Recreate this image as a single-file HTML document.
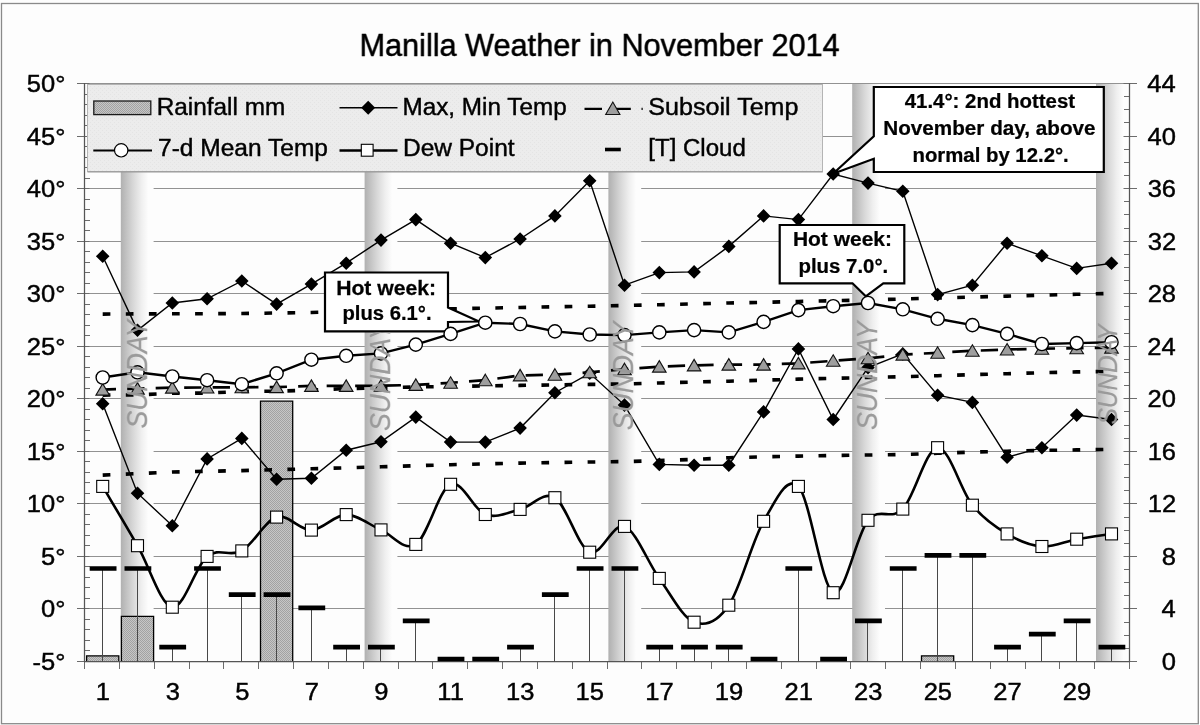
<!DOCTYPE html>
<html><head><meta charset="utf-8"><title>Manilla Weather in November 2014</title>
<style>html,body{margin:0;padding:0;background:#fdfdfc;}svg{display:block;font-family:"Liberation Sans",sans-serif;filter:grayscale(1);}</style></head><body>
<svg width="1200" height="725" viewBox="0 0 1200 725">
<defs>
<linearGradient id="band" x1="0" y1="0" x2="1" y2="0"><stop offset="0" stop-color="#b0b0b0"/><stop offset="0.36" stop-color="#d6d6d6"/><stop offset="0.63" stop-color="#efefef"/><stop offset="0.84" stop-color="#fcfdfb"/><stop offset="1" stop-color="#fcfdfb"/></linearGradient>
<pattern id="rain" width="2" height="2" patternUnits="userSpaceOnUse"><rect width="2" height="2" fill="#c6c6c6"/><rect width="1" height="1" fill="#a2a2a2"/><rect x="1" y="1" width="1" height="1" fill="#a2a2a2"/></pattern>
<pattern id="leg" width="4" height="4" patternUnits="userSpaceOnUse"><rect width="4" height="4" fill="#ececec"/><rect width="1" height="1" fill="#e4e4e4"/><rect x="2" y="2" width="1" height="1" fill="#e4e4e4"/></pattern>
</defs>
<rect width="1200" height="725" fill="#fdfdfc"/>
<rect x="1.5" y="3.5" width="1196.8" height="720.2" fill="#fcfdfb" stroke="#8a8a8a" stroke-width="1.3"/>
<path d="M84.5,83.5H1129.5M84.5,136.5H1129.5M84.5,188.5H1129.5M84.5,241.5H1129.5M84.5,293.5H1129.5M84.5,346.5H1129.5M84.5,398.5H1129.5M84.5,451.5H1129.5M84.5,503.5H1129.5M84.5,556.5H1129.5M84.5,608.5H1129.5M84.5,661.5H1129.5" stroke="#929292" stroke-width="1" fill="none"/>
<rect x="120.8" y="83.0" width="32.8" height="578.5" fill="url(#band)"/>
<rect x="364.6" y="83.0" width="32.8" height="578.5" fill="url(#band)"/>
<rect x="608.4" y="83.0" width="32.8" height="578.5" fill="url(#band)"/>
<rect x="852.2" y="83.0" width="32.8" height="578.5" fill="url(#band)"/>
<rect x="1096.0" y="83.0" width="32.8" height="578.5" fill="url(#band)"/>
<path d="M84.5,83.5H1129.5" stroke="#929292" stroke-width="1" fill="none"/>
<path d="M77.0,83.5H89.5M84.5,94.5H90.0M84.5,104.5H90.0M84.5,115.5H90.0M84.5,125.5H90.0M77.0,136.5H89.5M84.5,146.5H90.0M84.5,157.5H90.0M84.5,167.5H90.0M84.5,178.5H90.0M77.0,188.5H89.5M84.5,199.5H90.0M84.5,209.5H90.0M84.5,220.5H90.0M84.5,230.5H90.0M77.0,241.5H89.5M84.5,251.5H90.0M84.5,262.5H90.0M84.5,272.5H90.0M84.5,283.5H90.0M77.0,293.5H89.5M84.5,304.5H90.0M84.5,314.5H90.0M84.5,325.5H90.0M84.5,335.5H90.0M77.0,346.5H89.5M84.5,356.5H90.0M84.5,367.5H90.0M84.5,377.5H90.0M84.5,388.5H90.0M77.0,398.5H89.5M84.5,409.5H90.0M84.5,419.5H90.0M84.5,430.5H90.0M84.5,440.5H90.0M77.0,451.5H89.5M84.5,461.5H90.0M84.5,472.5H90.0M84.5,482.5H90.0M84.5,493.5H90.0M77.0,503.5H89.5M84.5,514.5H90.0M84.5,524.5H90.0M84.5,535.5H90.0M84.5,545.5H90.0M77.0,556.5H89.5M84.5,566.5H90.0M84.5,577.5H90.0M84.5,587.5H90.0M84.5,598.5H90.0M77.0,608.5H89.5M84.5,619.5H90.0M84.5,629.5H90.0M84.5,640.5H90.0M84.5,650.5H90.0M77.0,661.5H89.5M1123.5,83.5H1137.0M1124.0,96.5H1129.5M1124.0,109.5H1129.5M1124.0,122.5H1129.5M1123.5,136.5H1137.0M1124.0,149.5H1129.5M1124.0,162.5H1129.5M1124.0,175.5H1129.5M1123.5,188.5H1137.0M1124.0,201.5H1129.5M1124.0,214.5H1129.5M1124.0,228.5H1129.5M1123.5,241.5H1137.0M1124.0,254.5H1129.5M1124.0,267.5H1129.5M1124.0,280.5H1129.5M1123.5,293.5H1137.0M1124.0,306.5H1129.5M1124.0,319.5H1129.5M1124.0,333.5H1129.5M1123.5,346.5H1137.0M1124.0,359.5H1129.5M1124.0,372.5H1129.5M1124.0,385.5H1129.5M1123.5,398.5H1137.0M1124.0,411.5H1129.5M1124.0,425.5H1129.5M1124.0,438.5H1129.5M1123.5,451.5H1137.0M1124.0,464.5H1129.5M1124.0,477.5H1129.5M1124.0,490.5H1129.5M1123.5,503.5H1137.0M1124.0,517.5H1129.5M1124.0,530.5H1129.5M1124.0,543.5H1129.5M1123.5,556.5H1137.0M1124.0,569.5H1129.5M1124.0,582.5H1129.5M1124.0,595.5H1129.5M1123.5,608.5H1137.0M1124.0,622.5H1129.5M1124.0,635.5H1129.5M1124.0,648.5H1129.5M1123.5,661.5H1137.0M84.5,661.5V669.0M119.5,661.5V669.0M154.5,661.5V669.0M189.5,661.5V669.0M223.5,661.5V669.0M258.5,661.5V669.0M293.5,661.5V669.0M328.5,661.5V669.0M363.5,661.5V669.0M398.5,661.5V669.0M432.5,661.5V669.0M467.5,661.5V669.0M502.5,661.5V669.0M537.5,661.5V669.0M572.5,661.5V669.0M607.5,661.5V669.0M641.5,661.5V669.0M676.5,661.5V669.0M711.5,661.5V669.0M746.5,661.5V669.0M781.5,661.5V669.0M816.5,661.5V669.0M850.5,661.5V669.0M885.5,661.5V669.0M920.5,661.5V669.0M955.5,661.5V669.0M990.5,661.5V669.0M1025.5,661.5V669.0M1059.5,661.5V669.0M1094.5,661.5V669.0M1129.5,661.5V669.0" stroke="#6c6c6c" stroke-width="1" fill="none"/>
<path d="M84.5,83.0V662.0M1129.5,83.0V662.0M84.0,661.5H1130.0" stroke="#555" stroke-width="1.25" fill="none"/>
<rect x="86.6" y="655.9" width="32.2" height="5.1" fill="url(#rain)"/><path d="M86.6,661.0V655.9H118.8V661.0" fill="none" stroke="#000" stroke-width="1.3"/>
<rect x="121.4" y="616.3" width="32.2" height="44.7" fill="url(#rain)"/><path d="M121.4,661.0V616.3H153.6V661.0" fill="none" stroke="#000" stroke-width="1.3"/>
<rect x="260.5" y="401.2" width="32.2" height="259.8" fill="url(#rain)"/><path d="M260.5,661.0V401.2H292.7V661.0" fill="none" stroke="#000" stroke-width="1.3"/>
<rect x="921.5" y="655.9" width="32.2" height="5.1" fill="url(#rain)"/><path d="M921.5,661.0V655.9H953.7V661.0" fill="none" stroke="#000" stroke-width="1.3"/>
<path d="M102.5,569.1V661.5M137.5,569.1V661.5M172.5,647.8V661.5M207.5,569.1V661.5M241.5,595.3V661.5M276.5,595.3V661.5M311.5,608.4V661.5M346.5,647.8V661.5M380.5,647.8V661.5M415.5,621.5V661.5M520.5,647.8V661.5M554.5,595.3V661.5M589.5,569.1V661.5M624.5,569.1V661.5M659.5,647.8V661.5M694.5,647.8V661.5M728.5,647.8V661.5M798.5,569.1V661.5M867.5,621.5V661.5M902.5,569.1V661.5M937.5,556.0V661.5M972.5,556.0V661.5M1007.5,647.8V661.5M1041.5,634.7V661.5M1076.5,621.5V661.5M1111.5,647.8V661.5" stroke="#484848" stroke-width="1" fill="none"/>
<path d="M89.7,568.5H116.5M124.5,568.5H151.3M159.3,647.2H186.1M194.1,568.5H220.9M228.8,594.7H255.6M263.6,594.7H290.4M298.4,607.8H325.2M333.2,647.2H360.0M368.0,647.2H394.8M402.8,620.9H429.6M437.6,659.0H464.4M472.3,659.0H499.1M507.1,647.2H533.9M541.9,594.7H568.7M576.7,568.5H603.5M611.5,568.5H638.3M646.3,647.2H673.1M681.1,647.2H707.9M715.8,647.2H742.6M750.6,659.0H777.4M785.4,568.5H812.2M820.2,659.0H847.0M855.0,620.9H881.8M889.8,568.5H916.6M924.6,555.4H951.4M959.4,555.4H986.2M994.1,647.2H1020.9M1028.9,634.1H1055.7M1063.7,620.9H1090.5M1098.5,647.2H1125.3" stroke="#000" stroke-width="4.7" fill="none"/>
<polyline points="102.7,314.1 137.5,313.9 172.3,313.8 207.1,313.7 241.8,313.5 276.6,313.0 311.4,312.5 346.2,311.6 381.0,310.7 415.8,309.8 450.6,308.9 485.3,308.1 520.1,307.5 554.9,306.8 589.7,306.2 624.5,305.5 659.3,304.7 694.1,303.9 728.8,303.0 763.6,302.3 798.4,301.5 833.2,300.7 868.0,299.9 902.8,299.0 937.6,298.0 972.4,297.1 1007.1,296.1 1041.9,295.2 1076.7,294.3 1111.5,293.4" fill="none" stroke="#000" stroke-width="3.6" stroke-dasharray="7.7 15.4"/>
<polyline points="102.7,395.1 137.5,394.9 172.3,393.3 207.1,393.1 241.8,391.4 276.6,391.2 311.4,390.1 346.2,388.6 381.0,387.7 415.8,387.0 450.6,386.4 485.3,385.9 520.1,385.4 554.9,384.9 589.7,384.4 624.5,384.0 659.3,383.0 694.1,382.0 728.8,381.2 763.6,380.2 798.4,379.1 833.2,378.3 868.0,377.5 902.8,376.7 937.6,375.7 972.4,374.6 1007.1,373.7 1041.9,372.7 1076.7,371.9 1111.5,371.4" fill="none" stroke="#000" stroke-width="3.6" stroke-dasharray="7.7 15.4"/>
<polyline points="102.7,475.1 137.5,473.6 172.3,472.0 207.1,471.3 241.8,470.6 276.6,469.7 311.4,468.8 346.2,467.8 381.0,466.8 415.8,465.7 450.6,464.7 485.3,463.9 520.1,463.1 554.9,462.5 589.7,462.0 624.5,461.6 659.3,460.6 694.1,459.4 728.8,457.8 763.6,456.8 798.4,456.1 833.2,455.5 868.0,455.0 902.8,454.5 937.6,453.3 972.4,452.1 1007.1,451.2 1041.9,450.4 1076.7,449.9 1111.5,449.4" fill="none" stroke="#000" stroke-width="3.6" stroke-dasharray="7.7 15.4"/>
<polyline points="102.7,256.3 137.5,330.3 172.3,303.0 207.1,298.8 241.8,281.0 276.6,304.1 311.4,284.1 346.2,263.2 381.0,240.1 415.8,219.6 450.6,243.2 485.3,257.6 520.1,239.0 554.9,215.9 589.7,180.8 624.5,285.2 659.3,272.6 694.1,271.9 728.8,246.4 763.6,215.9 798.4,219.6 833.2,174.0 868.0,183.1 902.8,191.3 937.6,294.6 972.4,285.2 1007.1,243.2 1041.9,255.8 1076.7,268.4 1111.5,263.2" fill="none" stroke="#000" stroke-width="1.4"/>
<path d="M102.7,249.5l6.8,6.8l-6.8,6.8l-6.8,-6.8zM137.5,323.5l6.8,6.8l-6.8,6.8l-6.8,-6.8zM172.3,296.2l6.8,6.8l-6.8,6.8l-6.8,-6.8zM207.1,292.0l6.8,6.8l-6.8,6.8l-6.8,-6.8zM241.8,274.2l6.8,6.8l-6.8,6.8l-6.8,-6.8zM276.6,297.3l6.8,6.8l-6.8,6.8l-6.8,-6.8zM311.4,277.3l6.8,6.8l-6.8,6.8l-6.8,-6.8zM346.2,256.4l6.8,6.8l-6.8,6.8l-6.8,-6.8zM381.0,233.3l6.8,6.8l-6.8,6.8l-6.8,-6.8zM415.8,212.8l6.8,6.8l-6.8,6.8l-6.8,-6.8zM450.6,236.4l6.8,6.8l-6.8,6.8l-6.8,-6.8zM485.3,250.8l6.8,6.8l-6.8,6.8l-6.8,-6.8zM520.1,232.2l6.8,6.8l-6.8,6.8l-6.8,-6.8zM554.9,209.1l6.8,6.8l-6.8,6.8l-6.8,-6.8zM589.7,174.0l6.8,6.8l-6.8,6.8l-6.8,-6.8zM624.5,278.4l6.8,6.8l-6.8,6.8l-6.8,-6.8zM659.3,265.8l6.8,6.8l-6.8,6.8l-6.8,-6.8zM694.1,265.1l6.8,6.8l-6.8,6.8l-6.8,-6.8zM728.8,239.6l6.8,6.8l-6.8,6.8l-6.8,-6.8zM763.6,209.1l6.8,6.8l-6.8,6.8l-6.8,-6.8zM798.4,212.8l6.8,6.8l-6.8,6.8l-6.8,-6.8zM833.2,167.2l6.8,6.8l-6.8,6.8l-6.8,-6.8zM868.0,176.3l6.8,6.8l-6.8,6.8l-6.8,-6.8zM902.8,184.5l6.8,6.8l-6.8,6.8l-6.8,-6.8zM937.6,287.8l6.8,6.8l-6.8,6.8l-6.8,-6.8zM972.4,278.4l6.8,6.8l-6.8,6.8l-6.8,-6.8zM1007.1,236.4l6.8,6.8l-6.8,6.8l-6.8,-6.8zM1041.9,249.0l6.8,6.8l-6.8,6.8l-6.8,-6.8zM1076.7,261.6l6.8,6.8l-6.8,6.8l-6.8,-6.8zM1111.5,256.4l6.8,6.8l-6.8,6.8l-6.8,-6.8z" fill="#000"/>
<polyline points="102.7,403.8 137.5,493.2 172.3,525.7 207.1,458.9 241.8,438.4 276.6,479.3 311.4,478.3 346.2,450.2 381.0,441.8 415.8,417.1 450.6,442.1 485.3,442.1 520.1,428.1 554.9,392.7 589.7,373.3 624.5,405.1 659.3,464.4 694.1,465.2 728.8,465.2 763.6,411.9 798.4,348.9 833.2,419.5 868.0,367.6 902.8,353.9 937.6,395.2 972.4,402.4 1007.1,457.2 1041.9,447.7 1076.7,415.1 1111.5,419.5" fill="none" stroke="#000" stroke-width="1.4"/>
<path d="M102.7,397.0l6.8,6.8l-6.8,6.8l-6.8,-6.8zM137.5,486.4l6.8,6.8l-6.8,6.8l-6.8,-6.8zM172.3,518.9l6.8,6.8l-6.8,6.8l-6.8,-6.8zM207.1,452.1l6.8,6.8l-6.8,6.8l-6.8,-6.8zM241.8,431.6l6.8,6.8l-6.8,6.8l-6.8,-6.8zM276.6,472.5l6.8,6.8l-6.8,6.8l-6.8,-6.8zM311.4,471.5l6.8,6.8l-6.8,6.8l-6.8,-6.8zM346.2,443.4l6.8,6.8l-6.8,6.8l-6.8,-6.8zM381.0,435.0l6.8,6.8l-6.8,6.8l-6.8,-6.8zM415.8,410.3l6.8,6.8l-6.8,6.8l-6.8,-6.8zM450.6,435.3l6.8,6.8l-6.8,6.8l-6.8,-6.8zM485.3,435.3l6.8,6.8l-6.8,6.8l-6.8,-6.8zM520.1,421.3l6.8,6.8l-6.8,6.8l-6.8,-6.8zM554.9,385.9l6.8,6.8l-6.8,6.8l-6.8,-6.8zM589.7,366.5l6.8,6.8l-6.8,6.8l-6.8,-6.8zM624.5,398.3l6.8,6.8l-6.8,6.8l-6.8,-6.8zM659.3,457.6l6.8,6.8l-6.8,6.8l-6.8,-6.8zM694.1,458.4l6.8,6.8l-6.8,6.8l-6.8,-6.8zM728.8,458.4l6.8,6.8l-6.8,6.8l-6.8,-6.8zM763.6,405.1l6.8,6.8l-6.8,6.8l-6.8,-6.8zM798.4,342.1l6.8,6.8l-6.8,6.8l-6.8,-6.8zM833.2,412.7l6.8,6.8l-6.8,6.8l-6.8,-6.8zM868.0,360.8l6.8,6.8l-6.8,6.8l-6.8,-6.8zM902.8,347.1l6.8,6.8l-6.8,6.8l-6.8,-6.8zM937.6,388.4l6.8,6.8l-6.8,6.8l-6.8,-6.8zM972.4,395.6l6.8,6.8l-6.8,6.8l-6.8,-6.8zM1007.1,450.4l6.8,6.8l-6.8,6.8l-6.8,-6.8zM1041.9,440.9l6.8,6.8l-6.8,6.8l-6.8,-6.8zM1076.7,408.3l6.8,6.8l-6.8,6.8l-6.8,-6.8zM1111.5,412.7l6.8,6.8l-6.8,6.8l-6.8,-6.8z" fill="#000"/>
<polyline points="102.7,389.6 137.5,388.6 172.3,387.6 207.1,387.5 241.8,387.3 276.6,387.1 311.4,385.9 346.2,385.9 381.0,385.7 415.8,384.9 450.6,382.8 485.3,380.2 520.1,375.4 554.9,374.7 589.7,372.3 624.5,369.2 659.3,366.6 694.1,365.4 728.8,364.6 763.6,364.6 798.4,363.4 833.2,360.8 868.0,358.3 902.8,354.6 937.6,352.8 972.4,350.8 1007.1,349.5 1041.9,348.7 1076.7,348.2 1111.5,347.6" fill="none" stroke="#000" stroke-width="2.7" stroke-dasharray="17.3 11.2" stroke-dashoffset="4"/>
<path d="M102.7,383.6L109.5,395.1L95.9,395.1Z" fill="#9e9e9e" stroke="#111" stroke-width="1.1"/>
<path d="M137.5,382.6L144.3,394.1L130.7,394.1Z" fill="#9e9e9e" stroke="#111" stroke-width="1.1"/>
<path d="M172.3,381.6L179.1,393.1L165.5,393.1Z" fill="#9e9e9e" stroke="#111" stroke-width="1.1"/>
<path d="M207.1,381.5L213.9,393.0L200.3,393.0Z" fill="#9e9e9e" stroke="#111" stroke-width="1.1"/>
<path d="M241.8,381.3L248.6,392.8L235.0,392.8Z" fill="#9e9e9e" stroke="#111" stroke-width="1.1"/>
<path d="M276.6,381.1L283.4,392.6L269.8,392.6Z" fill="#9e9e9e" stroke="#111" stroke-width="1.1"/>
<path d="M311.4,379.9L318.2,391.4L304.6,391.4Z" fill="#9e9e9e" stroke="#111" stroke-width="1.1"/>
<path d="M346.2,379.9L353.0,391.4L339.4,391.4Z" fill="#9e9e9e" stroke="#111" stroke-width="1.1"/>
<path d="M381.0,379.7L387.8,391.2L374.2,391.2Z" fill="#9e9e9e" stroke="#111" stroke-width="1.1"/>
<path d="M415.8,378.9L422.6,390.4L409.0,390.4Z" fill="#9e9e9e" stroke="#111" stroke-width="1.1"/>
<path d="M450.6,376.8L457.4,388.3L443.8,388.3Z" fill="#9e9e9e" stroke="#111" stroke-width="1.1"/>
<path d="M485.3,374.2L492.1,385.7L478.5,385.7Z" fill="#9e9e9e" stroke="#111" stroke-width="1.1"/>
<path d="M520.1,369.4L526.9,380.9L513.3,380.9Z" fill="#9e9e9e" stroke="#111" stroke-width="1.1"/>
<path d="M554.9,368.7L561.7,380.2L548.1,380.2Z" fill="#9e9e9e" stroke="#111" stroke-width="1.1"/>
<path d="M589.7,366.3L596.5,377.8L582.9,377.8Z" fill="#9e9e9e" stroke="#111" stroke-width="1.1"/>
<path d="M624.5,363.2L631.3,374.7L617.7,374.7Z" fill="#9e9e9e" stroke="#111" stroke-width="1.1"/>
<path d="M659.3,360.6L666.1,372.1L652.5,372.1Z" fill="#9e9e9e" stroke="#111" stroke-width="1.1"/>
<path d="M694.1,359.4L700.9,370.9L687.3,370.9Z" fill="#9e9e9e" stroke="#111" stroke-width="1.1"/>
<path d="M728.8,358.6L735.6,370.1L722.0,370.1Z" fill="#9e9e9e" stroke="#111" stroke-width="1.1"/>
<path d="M763.6,358.6L770.4,370.1L756.8,370.1Z" fill="#9e9e9e" stroke="#111" stroke-width="1.1"/>
<path d="M798.4,357.4L805.2,368.9L791.6,368.9Z" fill="#9e9e9e" stroke="#111" stroke-width="1.1"/>
<path d="M833.2,354.8L840.0,366.3L826.4,366.3Z" fill="#9e9e9e" stroke="#111" stroke-width="1.1"/>
<path d="M868.0,352.3L874.8,363.8L861.2,363.8Z" fill="#9e9e9e" stroke="#111" stroke-width="1.1"/>
<path d="M902.8,348.6L909.6,360.1L896.0,360.1Z" fill="#9e9e9e" stroke="#111" stroke-width="1.1"/>
<path d="M937.6,346.8L944.4,358.3L930.8,358.3Z" fill="#9e9e9e" stroke="#111" stroke-width="1.1"/>
<path d="M972.4,344.8L979.2,356.3L965.6,356.3Z" fill="#9e9e9e" stroke="#111" stroke-width="1.1"/>
<path d="M1007.1,343.5L1013.9,355.0L1000.3,355.0Z" fill="#9e9e9e" stroke="#111" stroke-width="1.1"/>
<path d="M1041.9,342.7L1048.7,354.2L1035.1,354.2Z" fill="#9e9e9e" stroke="#111" stroke-width="1.1"/>
<path d="M1076.7,342.2L1083.5,353.7L1069.9,353.7Z" fill="#9e9e9e" stroke="#111" stroke-width="1.1"/>
<path d="M1111.5,341.6L1118.3,353.1L1104.7,353.1Z" fill="#9e9e9e" stroke="#111" stroke-width="1.1"/>
<path d="M102.7,486.4 C108.5,496.3 125.9,525.5 137.5,545.7 C149.1,565.8 160.7,605.4 172.3,607.2 C183.9,609.0 195.5,565.7 207.1,556.4 C218.7,547.0 230.2,557.5 241.8,550.9 C253.4,544.4 265.0,520.6 276.6,517.1 C288.2,513.7 299.8,530.6 311.4,530.1 C323.0,529.7 334.6,514.6 346.2,514.6 C357.8,514.6 369.4,525.0 381.0,529.9 C392.6,534.9 404.2,552.0 415.8,544.4 C427.4,536.8 439.0,489.3 450.6,484.3 C462.2,479.3 473.8,510.3 485.3,514.5 C496.9,518.7 508.5,512.2 520.1,509.4 C531.7,506.6 543.3,490.6 554.9,497.7 C566.5,504.8 578.1,547.4 589.7,552.2 C601.3,557.0 612.9,522.0 624.5,526.4 C636.1,530.7 647.7,562.4 659.3,578.4 C670.9,594.4 682.5,617.7 694.1,622.2 C705.7,626.6 717.3,622.0 728.8,605.2 C740.4,588.4 752.0,541.1 763.6,521.3 C775.2,501.5 786.8,474.5 798.4,486.4 C810.0,498.3 821.6,587.0 833.2,592.7 C844.8,598.3 856.4,534.2 868.0,520.3 C879.6,506.4 891.2,521.3 902.8,509.1 C914.4,497.0 926.0,448.3 937.6,447.7 C949.2,447.0 960.8,490.8 972.4,505.2 C983.9,519.5 995.5,527.0 1007.1,533.9 C1018.7,540.8 1030.3,545.6 1041.9,546.5 C1053.5,547.4 1065.1,541.3 1076.7,539.2 C1088.3,537.1 1105.7,534.8 1111.5,533.9" fill="none" stroke="#000" stroke-width="2.6"/>
<rect x="96.7" y="480.4" width="12" height="12" fill="#fff" stroke="#000" stroke-width="1.1"/>
<rect x="131.5" y="539.7" width="12" height="12" fill="#fff" stroke="#000" stroke-width="1.1"/>
<rect x="166.3" y="601.2" width="12" height="12" fill="#fff" stroke="#000" stroke-width="1.1"/>
<rect x="201.1" y="550.4" width="12" height="12" fill="#fff" stroke="#000" stroke-width="1.1"/>
<rect x="235.8" y="544.9" width="12" height="12" fill="#fff" stroke="#000" stroke-width="1.1"/>
<rect x="270.6" y="511.1" width="12" height="12" fill="#fff" stroke="#000" stroke-width="1.1"/>
<rect x="305.4" y="524.1" width="12" height="12" fill="#fff" stroke="#000" stroke-width="1.1"/>
<rect x="340.2" y="508.6" width="12" height="12" fill="#fff" stroke="#000" stroke-width="1.1"/>
<rect x="375.0" y="523.9" width="12" height="12" fill="#fff" stroke="#000" stroke-width="1.1"/>
<rect x="409.8" y="538.4" width="12" height="12" fill="#fff" stroke="#000" stroke-width="1.1"/>
<rect x="444.6" y="478.3" width="12" height="12" fill="#fff" stroke="#000" stroke-width="1.1"/>
<rect x="479.3" y="508.5" width="12" height="12" fill="#fff" stroke="#000" stroke-width="1.1"/>
<rect x="514.1" y="503.4" width="12" height="12" fill="#fff" stroke="#000" stroke-width="1.1"/>
<rect x="548.9" y="491.7" width="12" height="12" fill="#fff" stroke="#000" stroke-width="1.1"/>
<rect x="583.7" y="546.2" width="12" height="12" fill="#fff" stroke="#000" stroke-width="1.1"/>
<rect x="618.5" y="520.4" width="12" height="12" fill="#fff" stroke="#000" stroke-width="1.1"/>
<rect x="653.3" y="572.4" width="12" height="12" fill="#fff" stroke="#000" stroke-width="1.1"/>
<rect x="688.1" y="616.2" width="12" height="12" fill="#fff" stroke="#000" stroke-width="1.1"/>
<rect x="722.8" y="599.2" width="12" height="12" fill="#fff" stroke="#000" stroke-width="1.1"/>
<rect x="757.6" y="515.3" width="12" height="12" fill="#fff" stroke="#000" stroke-width="1.1"/>
<rect x="792.4" y="480.4" width="12" height="12" fill="#fff" stroke="#000" stroke-width="1.1"/>
<rect x="827.2" y="586.7" width="12" height="12" fill="#fff" stroke="#000" stroke-width="1.1"/>
<rect x="862.0" y="514.3" width="12" height="12" fill="#fff" stroke="#000" stroke-width="1.1"/>
<rect x="896.8" y="503.1" width="12" height="12" fill="#fff" stroke="#000" stroke-width="1.1"/>
<rect x="931.6" y="441.7" width="12" height="12" fill="#fff" stroke="#000" stroke-width="1.1"/>
<rect x="966.4" y="499.2" width="12" height="12" fill="#fff" stroke="#000" stroke-width="1.1"/>
<rect x="1001.1" y="527.9" width="12" height="12" fill="#fff" stroke="#000" stroke-width="1.1"/>
<rect x="1035.9" y="540.5" width="12" height="12" fill="#fff" stroke="#000" stroke-width="1.1"/>
<rect x="1070.7" y="533.2" width="12" height="12" fill="#fff" stroke="#000" stroke-width="1.1"/>
<rect x="1105.5" y="527.9" width="12" height="12" fill="#fff" stroke="#000" stroke-width="1.1"/>
<path d="M325,272.5H448V307.5L479,321.5L448,322V331.3H325Z" fill="#fff" stroke="#000" stroke-width="2.2" stroke-linejoin="miter"/>
<path d="M779.7,225H904.3V283.3H883.3L865.8,296.3L852.5,283.3H779.7Z" fill="#fff" stroke="#000" stroke-width="2.2"/>
<path d="M873.8,87H1103.8V172H873.8V158.8L833,173.8L873.8,136.3Z" fill="#fff" stroke="#000" stroke-width="2.2"/>
<polyline points="102.7,377.5 137.5,372.3 172.3,376.5 207.1,380.2 241.8,384.2 276.6,373.3 311.4,359.7 346.2,355.8 381.0,353.4 415.8,344.6 450.6,333.9 485.3,322.7 520.1,324.0 554.9,331.4 589.7,334.5 624.5,335.1 659.3,332.4 694.1,330.1 728.8,332.4 763.6,321.9 798.4,310.1 833.2,306.2 868.0,303.0 902.8,309.3 937.6,318.8 972.4,325.1 1007.1,333.9 1041.9,344.0 1076.7,343.1 1111.5,342.2" fill="none" stroke="#000" stroke-width="2.4"/>
<circle cx="102.7" cy="377.5" r="6.6" fill="#fff" stroke="#000" stroke-width="1.4"/>
<circle cx="137.5" cy="372.3" r="6.6" fill="#fff" stroke="#000" stroke-width="1.4"/>
<circle cx="172.3" cy="376.5" r="6.6" fill="#fff" stroke="#000" stroke-width="1.4"/>
<circle cx="207.1" cy="380.2" r="6.6" fill="#fff" stroke="#000" stroke-width="1.4"/>
<circle cx="241.8" cy="384.2" r="6.6" fill="#fff" stroke="#000" stroke-width="1.4"/>
<circle cx="276.6" cy="373.3" r="6.6" fill="#fff" stroke="#000" stroke-width="1.4"/>
<circle cx="311.4" cy="359.7" r="6.6" fill="#fff" stroke="#000" stroke-width="1.4"/>
<circle cx="346.2" cy="355.8" r="6.6" fill="#fff" stroke="#000" stroke-width="1.4"/>
<circle cx="381.0" cy="353.4" r="6.6" fill="#fff" stroke="#000" stroke-width="1.4"/>
<circle cx="415.8" cy="344.6" r="6.6" fill="#fff" stroke="#000" stroke-width="1.4"/>
<circle cx="450.6" cy="333.9" r="6.6" fill="#fff" stroke="#000" stroke-width="1.4"/>
<circle cx="485.3" cy="322.7" r="6.6" fill="#fff" stroke="#000" stroke-width="1.4"/>
<circle cx="520.1" cy="324.0" r="6.6" fill="#fff" stroke="#000" stroke-width="1.4"/>
<circle cx="554.9" cy="331.4" r="6.6" fill="#fff" stroke="#000" stroke-width="1.4"/>
<circle cx="589.7" cy="334.5" r="6.6" fill="#fff" stroke="#000" stroke-width="1.4"/>
<circle cx="624.5" cy="335.1" r="6.6" fill="#fff" stroke="#000" stroke-width="1.4"/>
<circle cx="659.3" cy="332.4" r="6.6" fill="#fff" stroke="#000" stroke-width="1.4"/>
<circle cx="694.1" cy="330.1" r="6.6" fill="#fff" stroke="#000" stroke-width="1.4"/>
<circle cx="728.8" cy="332.4" r="6.6" fill="#fff" stroke="#000" stroke-width="1.4"/>
<circle cx="763.6" cy="321.9" r="6.6" fill="#fff" stroke="#000" stroke-width="1.4"/>
<circle cx="798.4" cy="310.1" r="6.6" fill="#fff" stroke="#000" stroke-width="1.4"/>
<circle cx="833.2" cy="306.2" r="6.6" fill="#fff" stroke="#000" stroke-width="1.4"/>
<circle cx="868.0" cy="303.0" r="6.6" fill="#fff" stroke="#000" stroke-width="1.4"/>
<circle cx="902.8" cy="309.3" r="6.6" fill="#fff" stroke="#000" stroke-width="1.4"/>
<circle cx="937.6" cy="318.8" r="6.6" fill="#fff" stroke="#000" stroke-width="1.4"/>
<circle cx="972.4" cy="325.1" r="6.6" fill="#fff" stroke="#000" stroke-width="1.4"/>
<circle cx="1007.1" cy="333.9" r="6.6" fill="#fff" stroke="#000" stroke-width="1.4"/>
<circle cx="1041.9" cy="344.0" r="6.6" fill="#fff" stroke="#000" stroke-width="1.4"/>
<circle cx="1076.7" cy="343.1" r="6.6" fill="#fff" stroke="#000" stroke-width="1.4"/>
<circle cx="1111.5" cy="342.2" r="6.6" fill="#fff" stroke="#000" stroke-width="1.4"/>
<text transform="translate(146.8,428.5) rotate(-90) scale(1,1.12)" font-size="26.6" font-style="italic" fill="#999" stroke="#999" stroke-width="0.15" opacity="0.97">SUNDAY</text>
<text transform="translate(632.7,430.3) rotate(-90) scale(1,1.12)" font-size="26.6" font-style="italic" fill="#999" stroke="#999" stroke-width="0.15" opacity="0.97">SUNDAY</text>
<text transform="translate(876.7,430.0) rotate(-90) scale(1,1.12)" font-size="26.6" font-style="italic" fill="#999" stroke="#999" stroke-width="0.15" opacity="0.97">SUNDAY</text>
<text transform="translate(1117.3,424.6) rotate(-90) scale(1,1.12)" font-size="24.5" font-style="italic" fill="#999" stroke="#999" stroke-width="0.15" opacity="0.97">SUNDAY</text>
<clipPath id="c9"><rect x="350" y="332.6" width="60" height="120"/></clipPath><g clip-path="url(#c9)"><text transform="translate(390.0,431.0) rotate(-90) scale(1,1.12)" font-size="26.6" font-style="italic" fill="#999" stroke="#999" stroke-width="0.15" opacity="0.97">SUNDAY</text></g>
<rect x="87.5" y="84.5" width="735" height="87" fill="url(#leg)" stroke="#b4b4b4" stroke-width="1"/>
<path d="M87.5,171.8H822.8" stroke="#9a9a9a" stroke-width="1.2"/>
<rect x="93.8" y="101" width="57" height="13.6" fill="url(#rain)" stroke="#1a1a1a" stroke-width="1.3"/>
<g fill="#000" opacity="0.999">
<text transform="translate(156.75,114.50) scale(0.9978,1)" font-size="24.40" stroke="#000" stroke-width="0.45">Rainfall mm</text>
<text transform="translate(402.51,114.50) scale(0.9957,1)" font-size="24.40" stroke="#000" stroke-width="0.45">Max, Min Temp</text>
<text transform="translate(648.37,114.50) scale(1.0284,1)" font-size="24.40" stroke="#000" stroke-width="0.45">Subsoil Temp</text>
<text transform="translate(158.04,156.30) scale(1.0053,1)" font-size="24.40" stroke="#000" stroke-width="0.45">7-d Mean Temp</text>
<text transform="translate(402.99,156.30) scale(1.0043,1)" font-size="24.40" stroke="#000" stroke-width="0.45">Dew Point</text>
<text transform="translate(648.33,156.30) scale(0.9846,1)" font-size="24.40" stroke="#000" stroke-width="0.45">[T] Cloud</text>
</g>
<path d="M339.5,107.8H397.5" stroke="#000" stroke-width="1.4"/><path d="M368.2,100.8l7,7l-7,7l-7,-7z" fill="#000"/>
<path d="M93.3,150.5H152" stroke="#000" stroke-width="2.2"/><circle cx="121.2" cy="150.3" r="6.7" fill="#fff" stroke="#000" stroke-width="1.2"/>
<path d="M339.5,150.5H397.5" stroke="#000" stroke-width="2.5"/><rect x="361.3" y="144.3" width="11.8" height="11.9" fill="#fff" stroke="#000" stroke-width="1.1"/>
<path d="M584.5,108.8H602M609,108.8H630.8M641.5,108.8H642.7" stroke="#000" stroke-width="2.2"/><path d="M612.8,102L619.9,114.5L605.7,114.5Z" fill="#9e9e9e" stroke="#111" stroke-width="1.1"/>
<path d="M605,149.5H620.8" stroke="#000" stroke-width="3.6"/>
<g fill="#000" opacity="0.999"><text transform="translate(359.40,55.60) scale(0.9962,1)" font-size="30.80" stroke="#000" stroke-width="0.45">Manilla Weather in November 2014</text></g>
<g fill="#000" opacity="0.999">
<text transform="translate(32.58,669.50) scale(1.0350,1)" font-size="24.70" stroke="#000" stroke-width="0.45">-5°</text>
<text transform="translate(41.09,617.03) scale(1.0350,1)" font-size="24.70" stroke="#000" stroke-width="0.45">0°</text>
<text transform="translate(41.09,564.55) scale(1.0350,1)" font-size="24.70" stroke="#000" stroke-width="0.45">5°</text>
<text transform="translate(26.87,512.08) scale(1.0350,1)" font-size="24.70" stroke="#000" stroke-width="0.45">10°</text>
<text transform="translate(26.87,459.61) scale(1.0350,1)" font-size="24.70" stroke="#000" stroke-width="0.45">15°</text>
<text transform="translate(26.87,407.14) scale(1.0350,1)" font-size="24.70" stroke="#000" stroke-width="0.45">20°</text>
<text transform="translate(26.87,354.66) scale(1.0350,1)" font-size="24.70" stroke="#000" stroke-width="0.45">25°</text>
<text transform="translate(26.87,302.19) scale(1.0350,1)" font-size="24.70" stroke="#000" stroke-width="0.45">30°</text>
<text transform="translate(26.87,249.72) scale(1.0350,1)" font-size="24.70" stroke="#000" stroke-width="0.45">35°</text>
<text transform="translate(26.87,197.25) scale(1.0350,1)" font-size="24.70" stroke="#000" stroke-width="0.45">40°</text>
<text transform="translate(26.87,144.77) scale(1.0350,1)" font-size="24.70" stroke="#000" stroke-width="0.45">45°</text>
<text transform="translate(26.87,92.30) scale(1.0350,1)" font-size="24.70" stroke="#000" stroke-width="0.45">50°</text>
<text transform="translate(1161.75,669.50) scale(1.0350,1)" font-size="24.70" stroke="#000" stroke-width="0.45">0</text>
<text transform="translate(1161.44,617.03) scale(1.0350,1)" font-size="24.70" stroke="#000" stroke-width="0.45">4</text>
<text transform="translate(1161.86,564.55) scale(1.0350,1)" font-size="24.70" stroke="#000" stroke-width="0.45">8</text>
<text transform="translate(1147.84,512.08) scale(1.0350,1)" font-size="24.70" stroke="#000" stroke-width="0.45">12</text>
<text transform="translate(1147.64,459.61) scale(1.0350,1)" font-size="24.70" stroke="#000" stroke-width="0.45">16</text>
<text transform="translate(1147.53,407.14) scale(1.0350,1)" font-size="24.70" stroke="#000" stroke-width="0.45">20</text>
<text transform="translate(1147.22,354.66) scale(1.0350,1)" font-size="24.70" stroke="#000" stroke-width="0.45">24</text>
<text transform="translate(1147.64,302.19) scale(1.0350,1)" font-size="24.70" stroke="#000" stroke-width="0.45">28</text>
<text transform="translate(1147.84,249.72) scale(1.0350,1)" font-size="24.70" stroke="#000" stroke-width="0.45">32</text>
<text transform="translate(1147.64,197.25) scale(1.0350,1)" font-size="24.70" stroke="#000" stroke-width="0.45">36</text>
<text transform="translate(1147.53,144.77) scale(1.0350,1)" font-size="24.70" stroke="#000" stroke-width="0.45">40</text>
<text transform="translate(1147.22,92.30) scale(1.0350,1)" font-size="24.70" stroke="#000" stroke-width="0.45">44</text>
<text transform="translate(95.65,699.60) scale(1.0350,1)" font-size="24.70" stroke="#000" stroke-width="0.45">1</text>
<text transform="translate(165.63,699.60) scale(1.0350,1)" font-size="24.70" stroke="#000" stroke-width="0.45">3</text>
<text transform="translate(235.21,699.60) scale(1.0350,1)" font-size="24.70" stroke="#000" stroke-width="0.45">5</text>
<text transform="translate(304.73,699.60) scale(1.0350,1)" font-size="24.70" stroke="#000" stroke-width="0.45">7</text>
<text transform="translate(374.30,699.60) scale(1.0350,1)" font-size="24.70" stroke="#000" stroke-width="0.45">9</text>
<text transform="translate(437.35,699.60) scale(1.0350,1)" font-size="24.70" stroke="#000" stroke-width="0.45">11</text>
<text transform="translate(505.92,699.60) scale(1.0350,1)" font-size="24.70" stroke="#000" stroke-width="0.45">13</text>
<text transform="translate(575.49,699.60) scale(1.0350,1)" font-size="24.70" stroke="#000" stroke-width="0.45">15</text>
<text transform="translate(645.17,699.60) scale(1.0350,1)" font-size="24.70" stroke="#000" stroke-width="0.45">17</text>
<text transform="translate(714.69,699.60) scale(1.0350,1)" font-size="24.70" stroke="#000" stroke-width="0.45">19</text>
<text transform="translate(784.57,699.60) scale(1.0350,1)" font-size="24.70" stroke="#000" stroke-width="0.45">21</text>
<text transform="translate(854.09,699.60) scale(1.0350,1)" font-size="24.70" stroke="#000" stroke-width="0.45">23</text>
<text transform="translate(923.66,699.60) scale(1.0350,1)" font-size="24.70" stroke="#000" stroke-width="0.45">25</text>
<text transform="translate(993.34,699.60) scale(1.0350,1)" font-size="24.70" stroke="#000" stroke-width="0.45">27</text>
<text transform="translate(1062.86,699.60) scale(1.0350,1)" font-size="24.70" stroke="#000" stroke-width="0.45">29</text>
</g>
<g fill="#000" opacity="0.999">
<text transform="translate(336.16,294.70) scale(1.0283,1)" font-size="20.60" font-weight="bold" stroke="#000" stroke-width="0.25">Hot week:</text>
<text transform="translate(342.42,320.20) scale(0.9836,1)" font-size="20.60" font-weight="bold" stroke="#000" stroke-width="0.25">plus 6.1°.</text>
<text transform="translate(792.88,246.40) scale(1.0187,1)" font-size="20.60" font-weight="bold" stroke="#000" stroke-width="0.25">Hot week:</text>
<text transform="translate(798.41,273.30) scale(0.9915,1)" font-size="20.60" font-weight="bold" stroke="#000" stroke-width="0.25">plus 7.0°.</text>
<text transform="translate(904.70,108.30) scale(0.9915,1)" font-size="20.60" font-weight="bold" stroke="#000" stroke-width="0.25">41.4°: 2nd hottest</text>
<text transform="translate(883.19,135.10) scale(1.0049,1)" font-size="20.60" font-weight="bold" stroke="#000" stroke-width="0.25">November day, above</text>
<text transform="translate(912.47,162.10) scale(0.9881,1)" font-size="20.60" font-weight="bold" stroke="#000" stroke-width="0.25">normal by 12.2°.</text>
</g>
</svg></body></html>
